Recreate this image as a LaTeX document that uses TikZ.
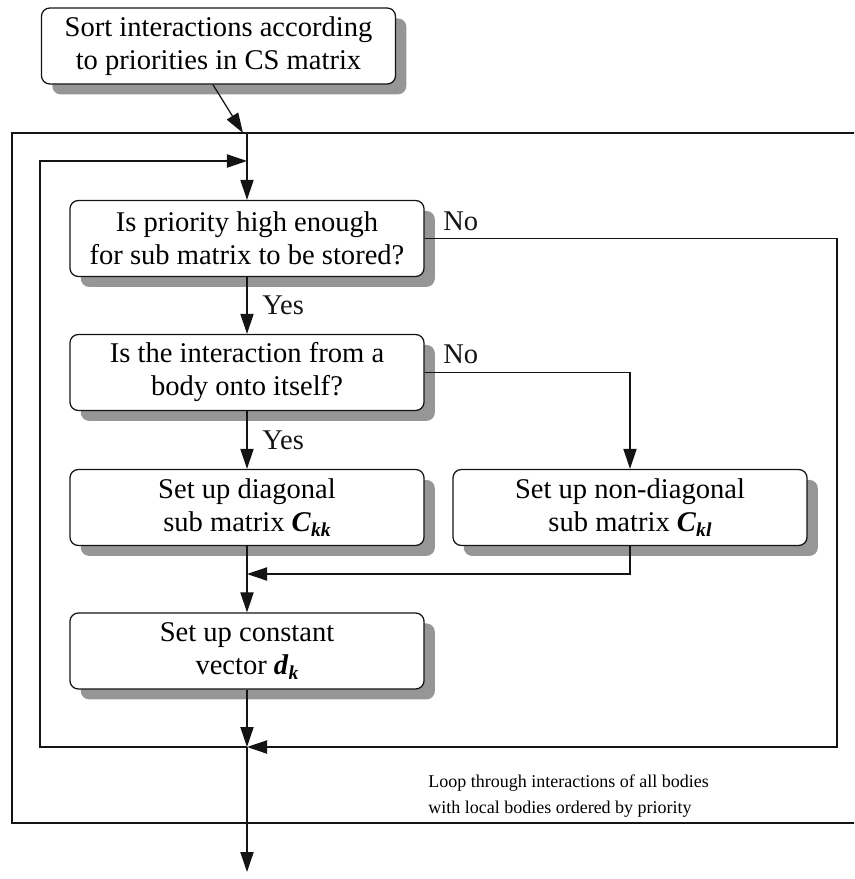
\documentclass[tikz,border=0pt]{standalone}
\usepackage{fontspec}
\setmainfont{Liberation Serif}
\usepackage{tikz}
\usetikzlibrary{arrows.meta, positioning, calc, shadows}
\definecolor{mydark}{RGB}{20,20,20}
\definecolor{shadegray}{RGB}{150,150,150}
\tikzset{
  box/.style={rectangle, draw=mydark, fill=white,
    minimum width=8.85cm, minimum height=1.9cm, align=center,
    font=\fontsize{20.3}{23.5}\selectfont, rounded corners=6pt, line width=0.9pt,
    drop shadow={shadow xshift=0.27cm, shadow yshift=-0.26cm, fill=shadegray, opacity=1}},
  arrow/.style={-{Triangle[length=0.5cm, width=0.33cm]}, line width=0.9pt, color=mydark},
  line/.style={line width=0.9pt, color=mydark},
  tag/.style={inner sep=0pt, font=\fontsize{20.3}{23.5}\selectfont},
  note/.style={inner sep=0pt, align=left, font=\fontsize{12.8}{18.5}\selectfont}
}
\newcommand{\bvec}[2]{\textbf{\textit{#1}}\raisebox{-0.35ex}{\fontsize{14}{14}\selectfont\textbf{\textit{#2}}}}

\begin{document}
\begin{tikzpicture}[x=0.025cm, y=-0.025cm]
    \clip (0,0) rectangle (854,879);
    % loop frames
    \draw[line] (12,133) rectangle (900,823);
    \coordinate (entry) at (247,133);
    \coordinate (loopin) at (247,161);
    \coordinate (loopnw) at (40,161);
    \coordinate (loopse) at (837,747);
    \coordinate (loopout) at (247,747);
    \coordinate (merge) at (247,574);
    \coordinate (exit) at (247,872);
    % boxes
    \node[box] (sort) at (218.5,46) {Sort interactions according\\to priorities in CS matrix};
    \node[box] (prio) at (247,238.5) {Is priority high enough\\for sub matrix to be stored?};
    \node[box] (self) at (247,372.5) {Is the interaction from a\\body onto itself?};
    \node[box] (diag) at (247,507.5) {Set up diagonal\\sub matrix \bvec{C}{kk}};
    \node[box] (offdiag) at (630,507.5) {Set up non-diagonal\\sub matrix \bvec{C}{kl}};
    \node[box] (vec) at (247,651) {Set up constant\\vector \bvec{d}{k}};
    % connectors
    \draw[arrow] ([xshift=-0.14cm]sort.south) -- ([xshift=-0.1cm]entry);
    \draw[arrow] (entry) -- (prio.north);
    \draw[arrow] (prio.south) -- node[tag, midway, right, xshift=0.37cm] {Yes} (self.north);
    \draw[arrow] (self.south) -- node[tag, midway, right, xshift=0.37cm] {Yes} (diag.north);
    \draw[arrow] (self.east) node[tag, anchor=base west, xshift=0.45cm, yshift=0.22cm] {No} -| (offdiag.north);
    \draw[arrow] (offdiag.south) |- (merge);
    \draw[arrow] (diag.south) -- (vec.north);
    \draw[arrow] (prio.east) node[tag, anchor=base west, xshift=0.45cm, yshift=0.2cm] {No} -| (loopse) -- (loopout);
    \draw[arrow] (vec.south) -- (loopout);
    \draw[arrow] (loopout) -| (loopnw) -- (loopin);
    \draw[arrow] (loopout) -- (exit);
    \node[note, anchor=north west] (loopnote) at (428,775) {Loop through interactions of all bodies\\with local bodies ordered by priority};
\end{tikzpicture}
\end{document}
